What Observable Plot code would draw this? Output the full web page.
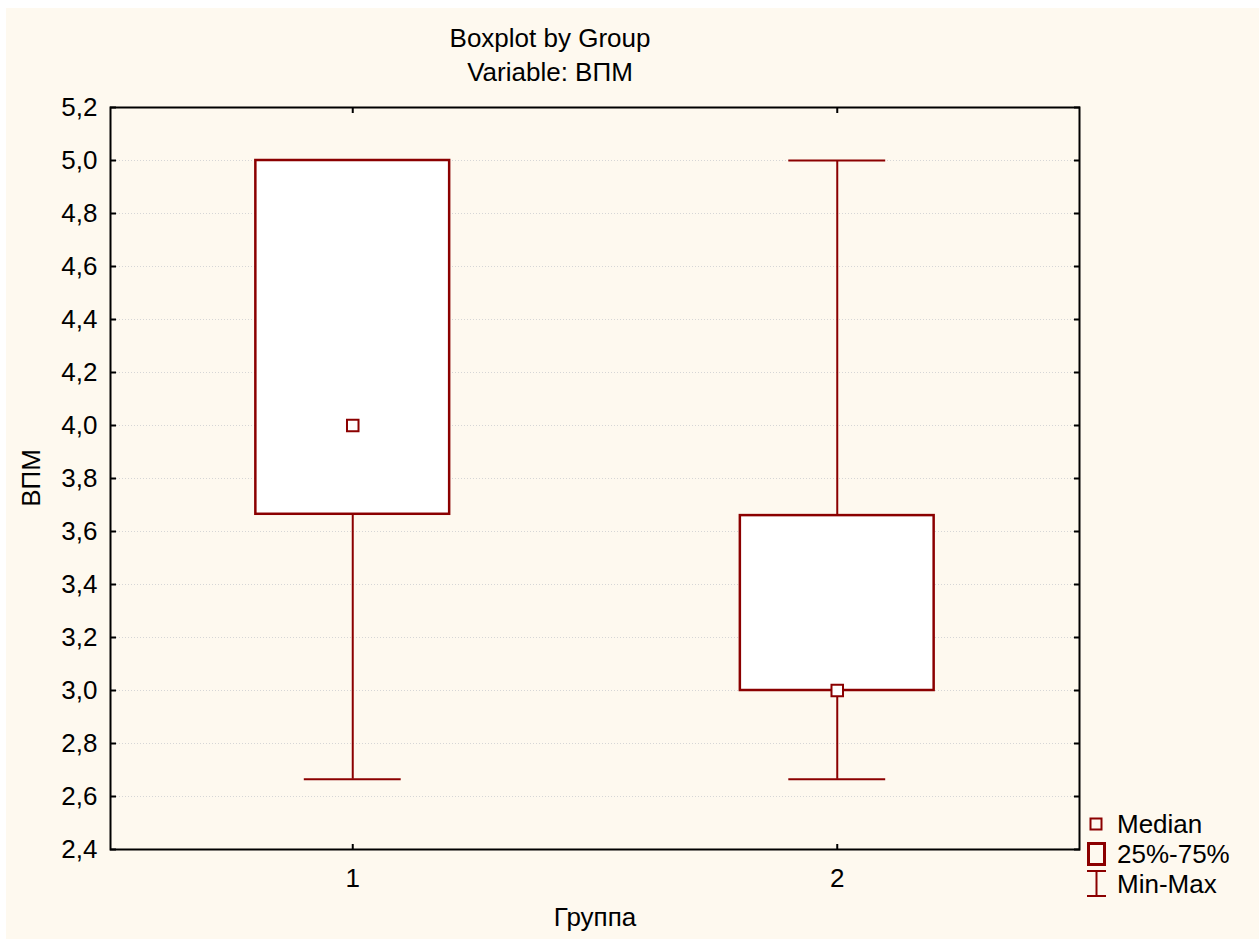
<!DOCTYPE html>
<html><head><meta charset="utf-8">
<script src="https://cdn.jsdelivr.net/npm/d3@7"></script>
<script src="https://cdn.jsdelivr.net/npm/@observablehq/plot@0.6"></script>
<style>
html,body{margin:0;padding:0;background:#fff;}
#wrap{position:relative;width:1259px;height:939px;overflow:hidden;}
#bg{position:absolute;left:6px;top:8px;right:0;bottom:0;background:#fef9ef;}
#chart{position:absolute;left:0;top:0;}
</style></head><body>
<div id="wrap"><div id="bg"></div><div id="chart"></div></div>
<script>
// ---- data ----
const groups = [1, 2];
const minVals = [2.665, 2.665];
const q1Vals = [3.665, 3.0];
const medianVals = [4.0, 3.0];
const q3Vals = [5.0, 3.66];
const maxVals = [5.0, 5.0];
const yTicks = [2.4, 2.6, 2.8, 3.0, 3.2, 3.4, 3.6, 3.8, 4.0, 4.2, 4.4, 4.6, 4.8, 5.0, 5.2];
const titleLines = ["Boxplot by Group", "Variable: ВПМ"];
const xLabel = "Группа";
const yLabel = "ВПМ";
const legendLabels = ["Median", "25%-75%", "Min-Max"];

const data = groups.map((g, i) => ({g, min: minVals[i], q1: q1Vals[i], median: medianVals[i], q3: q3Vals[i], max: maxVals[i]}));
const RED = "#8b0000";
const FONT = "'Liberation Sans', Arial, Helvetica, sans-serif";
const FS = 26;
const fmt = d => d3.format(".1f")(d).replace(".", ",");

const plot = Plot.plot({
  width: 1259, height: 939,
  marginLeft: 110, marginTop: 107, marginRight: 180, marginBottom: 90,
  style: {background: "transparent", fontFamily: FONT, fontSize: FS + "px", color: "#000"},
  x: {type: "linear", domain: [0.5, 2.5]},
  y: {domain: [2.4, 5.2]},
  marks: [
    Plot.gridY(yTicks, {stroke: "#d6d6d6", strokeOpacity: 1, strokeDasharray: "1,2"}),
    Plot.ruleX(data, {x: "g", y1: "min", y2: "q1", stroke: RED, strokeWidth: 2}),
    Plot.ruleX(data, {x: "g", y1: "q3", y2: "max", stroke: RED, strokeWidth: 2}),
    Plot.ruleY(data, {y: "min", x1: d => d.g - 0.1, x2: d => d.g + 0.1, stroke: RED, strokeWidth: 2}),
    Plot.ruleY(data, {y: "max", x1: d => d.g - 0.1, x2: d => d.g + 0.1, stroke: RED, strokeWidth: 2}),
    Plot.rect(data, {x1: d => d.g - 0.2, x2: d => d.g + 0.2, y1: "q1", y2: "q3", fill: "white", stroke: RED, strokeWidth: 2.5}),
    Plot.dot(data, {x: "g", y: "median", symbol: "square", r: 6.5, fill: "white", stroke: RED, strokeWidth: 2}),
    Plot.axisY(yTicks, {anchor: "left", tickSize: -6, tickPadding: 19, tickFormat: fmt, label: null, strokeWidth: 2, fontSize: FS}),
    Plot.axisY(yTicks, {anchor: "right", tickSize: -6, tickFormat: () => "", label: null, strokeWidth: 2}),
    Plot.axisX(groups, {anchor: "bottom", tickSize: -5, tickPadding: 24, tickFormat: d => String(d), label: null, strokeWidth: 2, fontSize: FS}),
    Plot.axisX(groups, {anchor: "top", tickSize: -5, tickFormat: () => "", label: null, strokeWidth: 2}),
    Plot.frame({stroke: "black", strokeWidth: 2})
  ]
});
document.getElementById("chart").appendChild(plot);

// ---- titles, axis labels, legend ----
const svg = d3.select("#wrap").append("svg")
  .attr("width", 1259).attr("height", 939)
  .style("position", "absolute").style("left", "0").style("top", "0")
  .style("pointer-events", "none")
  .style("font-family", FONT).style("font-size", FS + "px");

svg.append("text").attr("x", 550).attr("y", 47).attr("text-anchor", "middle").attr("fill", "#000").text(titleLines[0]);
svg.append("text").attr("x", 550).attr("y", 81).attr("text-anchor", "middle").attr("fill", "#000").text(titleLines[1]);
svg.append("text").attr("x", 595).attr("y", 926).attr("text-anchor", "middle").attr("fill", "#000").text(xLabel);
svg.append("text").attr("transform", "translate(40,478) rotate(-90)").attr("text-anchor", "middle").attr("fill", "#000").text(yLabel);

const lg = svg.append("g");
lg.append("rect").attr("x", 1090.5).attr("y", 818.5).attr("width", 11).attr("height", 11)
  .attr("fill", "none").attr("stroke", RED).attr("stroke-width", 2);
lg.append("rect").attr("x", 1088.5).attr("y", 843.5).attr("width", 16).attr("height", 21)
  .attr("fill", "none").attr("stroke", RED).attr("stroke-width", 3);
lg.append("line").attr("x1", 1087).attr("x2", 1106).attr("y1", 871).attr("y2", 871).attr("stroke", RED).attr("stroke-width", 2);
lg.append("line").attr("x1", 1087).attr("x2", 1106).attr("y1", 896).attr("y2", 896).attr("stroke", RED).attr("stroke-width", 2);
lg.append("line").attr("x1", 1096.5).attr("x2", 1096.5).attr("y1", 871).attr("y2", 896).attr("stroke", RED).attr("stroke-width", 2);
const baselines = [833, 863, 893];
legendLabels.forEach((t, i) => {
  lg.append("text").attr("x", 1117).attr("y", baselines[i]).attr("fill", "#000").text(t);
});
</script>
</body></html>
